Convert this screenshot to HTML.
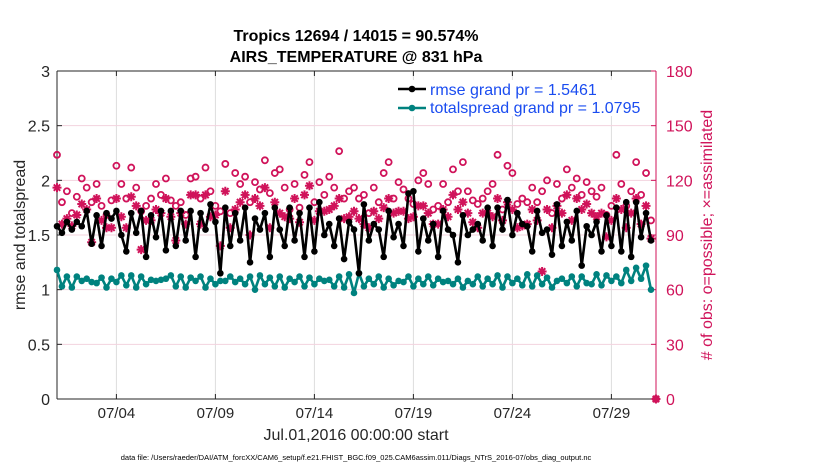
<!DOCTYPE html>
<html><head><meta charset="utf-8">
<style>
html,body{margin:0;padding:0;background:#fff;}
body{width:830px;height:470px;overflow:hidden;font-family:"Liberation Sans",Arial,sans-serif;}
</style></head>
<body>
<svg id="chart" width="830" height="470" xmlns="http://www.w3.org/2000/svg" font-family="Liberation Sans, Arial, sans-serif">
</svg>
<script>
// ---- data (6-hourly, t index = quarter days from Jul 1 00:00) ----
const dayTickLabels = ["07/04","07/09","07/14","07/19","07/24","07/29"];
const dayTickDays = [3,8,13,18,23,28];
const leftTicks = [0,0.5,1,1.5,2,2.5,3];
const rightTicks = [0,30,60,90,120,150,180];
const rmse = [1.58,1.52,1.62,1.55, 1.62,1.58,1.72,1.42, 1.68,1.40,1.70,1.65, 1.72,1.50,1.35,1.70,
 1.52,1.72,1.30,1.68, 1.48,1.72,1.36,1.72, 1.40,1.72,1.45,1.72, 1.30,1.70,1.55,1.78,
 1.62,1.15,1.75,1.40, 1.70,1.45,1.75,1.25, 1.65,1.55,1.70,1.30, 1.75,1.55,1.40,1.75,
 1.45,1.70,1.30,1.75, 1.35,1.80,1.50,1.60, 1.40,1.65,1.28,1.62, 1.55,1.15,1.78,1.45,
 1.60,1.55,1.30,1.72, 1.48,1.60,1.40,1.88, 1.90,1.35,1.65,1.45, 1.60,1.30,1.72,1.55,
 1.50,1.25,1.68,1.50, 1.55,1.60,1.45,1.75, 1.40,1.75,1.55,1.82, 1.50,1.70,1.60,1.58,
 1.35,1.72,1.52,1.55, 1.32,1.78,1.40,1.62, 1.45,1.72,1.22,1.58, 1.50,1.62,1.35,1.68,
 1.40,1.75,1.35,1.80, 1.30,1.80,1.48,1.70, 1.45];
const spread = [1.18,1.03,1.12,1.02, 1.12,1.08,1.10,1.07, 1.06,1.11,1.02,1.10, 1.07,1.13,1.04,1.13,
 1.02,1.12,1.05,1.09, 1.08,1.09,1.10,1.13, 1.03,1.12,1.02,1.11, 1.08,1.12,1.02,1.10,
 1.05,1.08,1.08,1.12, 1.07,1.10,1.05,1.12, 1.00,1.13,1.05,1.11, 1.03,1.12,1.02,1.10,
 1.07,1.12,1.03,1.11, 1.05,1.10,1.08,1.09, 1.03,1.12,1.02,1.14, 0.97,1.15,1.03,1.10,
 1.05,1.12,1.02,1.10, 1.04,1.08,1.07,1.12, 1.03,1.10,1.05,1.12, 1.04,1.10,1.07,1.08,
 1.05,1.10,1.02,1.08, 1.05,1.12,1.03,1.10, 1.05,1.13,1.02,1.12, 1.06,1.10,1.04,1.14,
 1.03,1.13,1.05,1.11, 1.02,1.08,1.10,1.06, 1.12,1.03,1.12,1.06, 1.05,1.14,1.04,1.13,
 1.08,1.12,1.06,1.18, 1.08,1.20,1.10,1.22, 1.00];
const obsPossible = [
 134,108,114,102,111,121,116,108,
 118,106,101,109,128,118,110,127,
 116,103,106,110,118,112,121,109,
 106,108,101,121,122,110,127,114,
 106,103,129,102,124,118,122,108,
 119,115,131,113,124,126,116,104,
 118,105,123,130,108,119,112,122,
 116,136,110,114,116,110,112,102,
 116,108,124,130,110,119,115,110,
 107,120,124,118,104,106,118,108,
 126,114,130,114,109,107,110,114,
 118,134,104,128,124,107,110,108,
 116,108,114,120,102,118,110,126,
 116,121,112,119,114,111,116,101,
 106,134,118,106,114,130,112,124,
 98,0];
const obsAssim = [
 116,96,99,95,101,107,104,86,
 110,98,94,94,110,100,94,111,
 106,82,98,98,104,102,110,100,
 87,102,96,112,112,96,112,100,
 101,84,114,94,104,108,112,90,
 110,106,116,94,108,102,100,99,
 110,97,112,117,98,103,103,104,
 106,110,99,100,103,99,96,94,
 103,99,105,110,102,103,103,99,
 100,106,106,102,96,96,104,100,
 112,104,108,102,97,94,102,102,
 100,110,98,108,104,94,95,96,
 104,98,70,104,94,106,102,112,
 98,110,104,107,102,100,102,89,
 98,110,104,94,102,110,96,106,
 88,0];

// ---- layout ----
const svg = document.getElementById('chart');
const NS = 'http://www.w3.org/2000/svg';
const X0 = 57, X1 = 656, Y0 = 399, Y1 = 71, DAYPX = 19.8;
const xT = t => X0 + t * DAYPX / 4;
const xD = d => X0 + d * DAYPX;
const yL = v => Y0 - (v / 3) * (Y0 - Y1);
const yR = n => Y0 - (n / 180) * (Y0 - Y1);
const RED = '#d0135a', TEAL = '#00827f';
function mk(tag, attrs, parent) {
  const el = document.createElementNS(NS, tag);
  for (const k in attrs) el.setAttribute(k, attrs[k]);
  (parent || svg).appendChild(el);
  return el;
}
function txt(s, attrs, parent) { const el = mk('text', attrs, parent); el.textContent = s; return el; }

// gridlines
const grid = mk('g', {});


dayTickDays.forEach(d => mk('line', {x1: xD(d), x2: xD(d), y1: Y1, y2: Y0, stroke: '#dcdcdc', 'stroke-width': 1}, grid));
rightTicks.forEach(n => mk('line', {x1: X0, x2: X1, y1: yR(n), y2: yR(n), stroke: '#f3d3de', 'stroke-width': 1}, grid));

// axes frame
mk('line', {x1: X0, x2: X1, y1: Y0, y2: Y0, stroke: '#262626'});
mk('line', {x1: X0, x2: X1, y1: Y1, y2: Y1, stroke: '#262626'});
const la = mk('line', {x1: X0, x2: X0, y1: Y1, y2: Y0, stroke: '#262626'});


const ra = mk('line', {x1: X1, x2: X1, y1: Y1, y2: Y0, stroke: RED});



// x ticks
dayTickDays.forEach((d, i) => {
  mk('line', {x1: xD(d), x2: xD(d), y1: Y0, y2: Y0 - 5, stroke: '#262626'});
  mk('line', {x1: xD(d), x2: xD(d), y1: Y1, y2: Y1 + 5, stroke: '#262626'});
  const t = txt(dayTickLabels[i], {x: xD(d), y: 418, 'text-anchor': 'middle', 'font-size': 15, fill: '#262626'});
  
  
});
// left ticks
leftTicks.forEach(v => {
  mk('line', {x1: X0, x2: X0 + 5, y1: yL(v), y2: yL(v), stroke: '#262626'});
  const t = txt(String(v), {x: X0 - 7, y: yL(v) + 6, 'text-anchor': 'end', 'font-size': 16, fill: '#262626'});
  
  
});
// right ticks
rightTicks.forEach(n => {
  mk('line', {x1: X1, x2: X1 - 5, y1: yR(n), y2: yR(n), stroke: RED});
  const t = txt(String(n), {x: X1 + 10, y: yR(n) + 6, 'font-size': 16, fill: RED});
  
  
});

// obs possible (circles)
const gp = mk('g', {});


obsPossible.forEach((n, t) => mk('circle', {cx: xT(t), cy: yR(n), r: 3, fill: 'none', stroke: RED, 'stroke-width': 1.8}, gp));
// obs assimilated (asterisks)
const ga = mk('g', {});


obsAssim.forEach((n, t) => {
  const cx = xT(t), cy = yR(n), r = 4.5;
  let d = `M${cx-r},${cy}H${cx+r}M${cx},${cy-r}V${cy+r}M${cx-3.2},${cy-3.2}L${cx+3.2},${cy+3.2}M${cx-3.2},${cy+3.2}L${cx+3.2},${cy-3.2}`;
  mk('path', {d: d, stroke: RED, 'stroke-width': 2}, ga);
});

// lines
function series(arr, color, name) {
  const g = mk('g', {});
  
  
  mk('polyline', {points: arr.map((v, t) => xT(t) + ',' + yL(v)).join(' '), fill: 'none', stroke: color, 'stroke-width': 2.6, 'stroke-linejoin': 'round'}, g);
  arr.forEach((v, t) => mk('circle', {cx: xT(t), cy: yL(v), r: 3.3, fill: color}, g));
}
series(spread, TEAL, 'totalspread-series');
series(rmse, '#000', 'rmse-series');

// legend
const lg = mk('g', {});


mk('rect', {x: 395, y: 80, width: 250, height: 36, fill: '#fff'}, lg);
mk('line', {x1: 398, x2: 426, y1: 89, y2: 89, stroke: '#000', 'stroke-width': 2.6}, lg);
mk('circle', {cx: 412, cy: 89, r: 3.3, fill: '#000'}, lg);
txt('rmse grand pr = 1.5461', {x: 430, y: 95, 'font-size': 16, fill: '#1a4cf0'}, lg);
mk('line', {x1: 398, x2: 426, y1: 108, y2: 108, stroke: TEAL, 'stroke-width': 2.6}, lg);
mk('circle', {cx: 412, cy: 108, r: 3.3, fill: TEAL}, lg);
txt('totalspread grand pr = 1.0795', {x: 430, y: 113, 'font-size': 16, fill: '#1a4cf0'}, lg);

// titles
const t1 = txt('Tropics 12694 / 14015 = 90.574%', {x: 356, y: 41, 'text-anchor': 'middle', 'font-size': 16, 'font-weight': 'bold', fill: '#000'});


const t2 = txt('AIRS_TEMPERATURE @ 831 hPa', {x: 356, y: 62, 'text-anchor': 'middle', 'font-size': 16, 'font-weight': 'bold', fill: '#000'});


const yt = txt('rmse and totalspread', {x: 0, y: 0, 'text-anchor': 'middle', 'font-size': 16, fill: '#262626', transform: 'translate(25,235) rotate(-90)'});


const yr = txt('# of obs: o=possible; \u00d7=assimilated', {x: 0, y: 0, 'text-anchor': 'middle', 'font-size': 16, fill: RED, transform: 'translate(712,235) rotate(-90)'});


const xt = txt('Jul.01,2016 00:00:00 start', {x: 356, y: 440, 'text-anchor': 'middle', 'font-size': 16, fill: '#262626'});


const ft = txt('data file: /Users/raeder/DAI/ATM_forcXX/CAM6_setup/f.e21.FHIST_BGC.f09_025.CAM6assim.011/Diags_NTrS_2016-07/obs_diag_output.nc', {x: 356, y: 460, 'text-anchor': 'middle', 'font-size': 7.5, fill: '#000'});


</script>
</body></html>
